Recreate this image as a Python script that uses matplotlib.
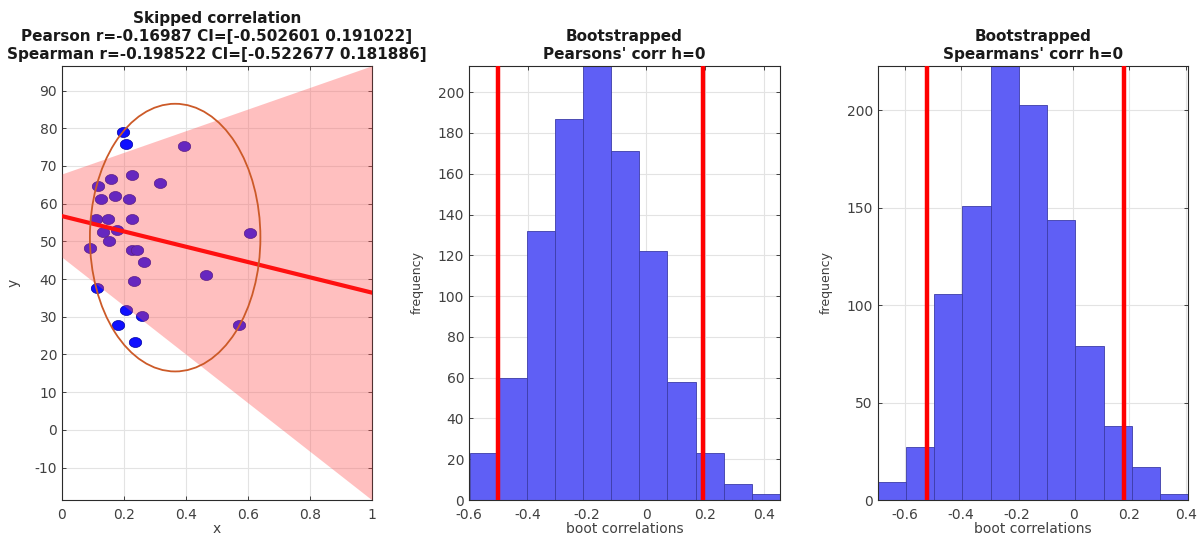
import numpy as np
import matplotlib
matplotlib.use("Agg")
import matplotlib.pyplot as plt
from matplotlib.patches import Ellipse
from matplotlib.path import Path

plt.rcParams['font.family'] = ['DejaVu Sans']
plt.rcParams['axes.unicode_minus'] = False

# ---------------- data ----------------
x_pts = [0.198, 0.206, 0.395, 0.227, 0.158, 0.316, 0.117, 0.126, 0.171, 0.216,
         0.109, 0.147, 0.225, 0.131, 0.178, 0.153, 0.090, 0.227, 0.241, 0.265,
         0.606, 0.463, 0.232, 0.112, 0.205, 0.259, 0.182, 0.572, 0.235]
y_pts = [78.9, 75.9, 75.4, 67.7, 66.6, 65.4, 64.8, 61.2, 62.0, 61.3,
         56.0, 56.0, 56.0, 52.6, 52.9, 50.1, 48.2, 47.6, 47.6, 44.5,
         52.2, 41.2, 39.4, 37.6, 31.8, 30.1, 27.8, 27.7, 23.4]

fit_x = [0.0, 1.0]
fit_y = [56.7, 36.4]
ci_low = [45.8, -18.6]
ci_high = [67.9, 96.6]

ell_center = (0.365, 51.0)
ell_width = 0.55
ell_height = 71.0

pearson_edges_start = -0.596
pearson_binw = 0.0954
pearson_counts = [23, 60, 132, 187, 213, 171, 122, 58, 23, 8, 3]
pearson_ci = [-0.502601, 0.191022]

spearman_edges_start = -0.697
spearman_binw = 0.1006
spearman_counts = [9, 27, 106, 151, 223, 203, 144, 79, 38, 17, 3]
spearman_ci = [-0.522677, 0.181886]

title1 = ["Skipped correlation",
          "Pearson r=-0.16987 CI=[-0.502601 0.191022]",
          "Spearman r=-0.198522 CI=[-0.522677 0.181886]"]
title2 = ["Bootstrapped", "Pearsons' corr h=0"]
title3 = ["Bootstrapped", "Spearmans' corr h=0"]

# ---------------- figure ----------------
W, H = 1198, 538
fig = plt.figure(figsize=(W / 100, H / 100), dpi=100)

def axpos(x0, x1, ytop, ybot):
    return [x0 / W, (H - ybot) / H, (x1 - x0) / W, (ybot - ytop) / H]

ax1 = fig.add_axes(axpos(62, 372, 65.7, 500))
ax2 = fig.add_axes(axpos(469, 780, 65.7, 500))
ax3 = fig.add_axes(axpos(877.7, 1188.3, 65.7, 500))

axcol = '#262626'
gridcol = '#e3e3e3'
tickcol = '#404040'
tick_fs = 10
title_fs = 11

def style(ax):
    ax.grid(True, color=gridcol, linewidth=0.8)
    ax.set_axisbelow(True)
    for s in ax.spines.values():
        s.set_color('#2b2b2b')
        s.set_linewidth(0.8)
    ax.tick_params(direction='in', length=3, width=0.6, colors=axcol,
                   labelsize=tick_fs, labelcolor=tickcol, top=True, right=True)
    ax.tick_params(axis='x', pad=6)

# horizontally elongated dot marker
t = np.linspace(0, 2 * np.pi, 40)
dot = Path(np.column_stack([1.25 * np.cos(t), np.sin(t)]), closed=True)

# ---- panel 1 ----
style(ax1)
ax1.scatter(x_pts, y_pts, s=80, marker=dot, color='#1010ff',
            edgecolors='#0000a0', linewidths=0.5, zorder=2)
ax1.fill_between(fit_x, ci_low, ci_high, color='#ff5050', alpha=0.36,
                 linewidth=0, zorder=3)
ax1.plot(fit_x, fit_y, color='#ff1010', linewidth=3, zorder=4)
ell = Ellipse(ell_center, ell_width, ell_height, fill=False,
              edgecolor='#cc5a28', linewidth=1.3, zorder=5)
ax1.add_patch(ell)
ax1.set_xlim(0, 1)
ax1.set_ylim(-18.6, 96.6)
ax1.set_xticks(np.arange(0, 1.01, 0.2))
ax1.set_xticklabels(['0', '0.2', '0.4', '0.6', '0.8', '1'])
ax1.set_yticks(np.arange(-10, 91, 10))
ax1.set_xlabel('x', fontsize=10, color=tickcol, labelpad=0)
ax1.set_ylabel('y', fontsize=10, color=tickcol, labelpad=10)
ax1.set_title("\n".join(title1), fontsize=title_fs, fontweight='bold',
              color='#1a1a1a', pad=5, linespacing=1.25)

# ---- histograms ----
def hist(ax, start, binw, counts, ci, yticks, title):
    style(ax)
    n = len(counts)
    edges = start + binw * np.arange(n + 1)
    ax.bar(edges[:-1], counts, width=binw, align='edge', color='#5f5ff5',
           edgecolor='#3c3ca8', linewidth=0.6, zorder=2)
    for c in ci:
        ax.axvline(c, color='#ff0000', linewidth=3.2, zorder=3)
    ax.set_xlim(edges[0], edges[-1])
    ax.set_ylim(0, max(counts))
    ax.set_yticks(yticks)
    ax.set_xticks([-0.6, -0.4, -0.2, 0, 0.2, 0.4])
    ax.set_xticklabels(['-0.6', '-0.4', '-0.2', '0', '0.2', '0.4'])
    ax.set_xlabel('boot correlations', fontsize=10, color=tickcol,
                  labelpad=0)
    ax.set_ylabel('frequency', fontsize=9, color=tickcol, labelpad=10)
    ax.set_title("\n".join(title), fontsize=title_fs, fontweight='bold',
                 color='#1a1a1a', pad=5, linespacing=1.25)

hist(ax2, pearson_edges_start, pearson_binw, pearson_counts, pearson_ci,
     np.arange(0, 201, 20), title2)
hist(ax3, spearman_edges_start, spearman_binw, spearman_counts, spearman_ci,
     np.arange(0, 201, 50), title3)

fig.savefig('out.png', dpi=100, facecolor='white')
